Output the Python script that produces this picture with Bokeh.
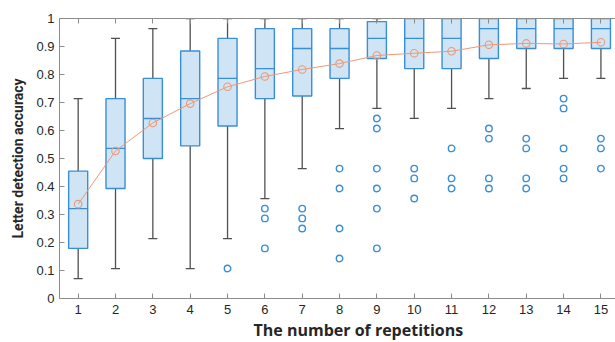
from bokeh.plotting import figure
from bokeh.models import (ColumnDataSource, Range1d, LinearAxis, FixedTicker,
                          NumeralTickFormatter, Title)
from bokeh.embed import file_html
from bokeh.resources import INLINE

# ---- data ----
reps = [1, 2, 3, 4, 5, 6, 7, 8, 9, 10, 11, 12, 13, 14, 15]
whisk_low = [0.071, 0.107, 0.214, 0.107, 0.214, 0.357, 0.464, 0.607, 0.679, 0.643, 0.679, 0.714, 0.750, 0.786, 0.786]
q1 = [0.179, 0.393, 0.500, 0.545, 0.616, 0.714, 0.723, 0.786, 0.857, 0.821, 0.821, 0.857, 0.893, 0.893, 0.893]
median = [0.321, 0.536, 0.643, 0.714, 0.786, 0.821, 0.893, 0.893, 0.929, 0.929, 0.929, 0.964, 0.964, 0.964, 0.964]
q3 = [0.455, 0.714, 0.786, 0.884, 0.929, 0.964, 0.964, 0.964, 0.989, 1.0, 1.0, 1.0, 1.0, 1.0, 1.0]
whisk_high = [0.714, 0.929, 0.964, 1.0, 1.0, 1.0, 1.0, 1.0, 1.0, 1.0, 1.0, 1.0, 1.0, 1.0, 1.0]
mean_acc = [0.337, 0.527, 0.627, 0.696, 0.756, 0.793, 0.818, 0.839, 0.868, 0.876, 0.883, 0.906, 0.911, 0.909, 0.915]

outlier_rep = [5,
               6, 6, 6,
               7, 7, 7,
               8, 8, 8, 8,
               9, 9, 9, 9, 9, 9,
               10, 10, 10,
               11, 11, 11,
               12, 12, 12, 12,
               13, 13, 13, 13,
               14, 14, 14, 14, 14,
               15, 15, 15]
outlier_val = [0.107,
               0.321, 0.286, 0.179,
               0.321, 0.286, 0.250,
               0.464, 0.393, 0.250, 0.143,
               0.643, 0.607, 0.464, 0.393, 0.321, 0.179,
               0.464, 0.429, 0.357,
               0.536, 0.429, 0.393,
               0.607, 0.571, 0.429, 0.393,
               0.571, 0.536, 0.429, 0.393,
               0.714, 0.679, 0.536, 0.464, 0.429,
               0.571, 0.536, 0.464]

y_ticks = [0, 0.1, 0.2, 0.3, 0.4, 0.5, 0.6, 0.7, 0.8, 0.9, 1.0]
x_label = "The number of repetitions"
y_label = "Letter detection accuracy"

# ---- styling ----
BLUE = "#3a8ed6"
FILL = "#cfe4f4"
GREY = "#505050"
ORANGE = "#ee9874"
AXIS = "#8c8c8c"
TXT = "#262626"
TICK_FONT = "Liberation Sans"

src = ColumnDataSource(dict(x=reps, lo=whisk_low, q1=q1, med=median, q3=q3,
                            hi=whisk_high, mean=mean_acc))
osrc = ColumnDataSource(dict(x=outlier_rep, y=outlier_val))

p = figure(width=615, height=342, output_backend="svg", toolbar_location=None,
           x_range=Range1d(0.5, 15.39), y_range=Range1d(0, 1),
           min_border_left=59, min_border_right=0, min_border_top=18,
           min_border_bottom=44)
p.outline_line_color = None
p.xgrid.visible = False
p.ygrid.visible = False
p.background_fill_color = "white"
p.border_fill_color = "white"

# whiskers
p.segment(x0="x", y0="lo", x1="x", y1="q1", source=src, line_color=GREY, line_width=1.3)
p.segment(x0="x", y0="q3", x1="x", y1="hi", source=src, line_color=GREY, line_width=1.3)
p.scatter(x="x", y="lo", source=src, marker="dash", size=9, line_color=GREY, line_width=1.3)
p.scatter(x="x", y="hi", source=src, marker="dash", size=9, line_color=GREY, line_width=1.3)

# boxes
p.vbar(x="x", bottom="q1", top="q3", width=0.51, source=src,
       fill_color=FILL, line_color=BLUE, line_width=1.4)
p.scatter(x="x", y="med", source=src, marker="dash", size=19, line_color=BLUE, line_width=1.4)

# outliers
p.scatter(x="x", y="y", source=osrc, marker="circle", size=6.5, fill_color=None,
          line_color=BLUE, line_width=1.4)

# mean line
p.line(x="x", y="mean", source=src, line_color=ORANGE, line_width=1.0)
p.scatter(x="x", y="mean", source=src, marker="circle", size=7.5, fill_color=None,
          line_color=ORANGE, line_width=1.1)

# axes
xa = p.xaxis[0]
xa.ticker = FixedTicker(ticks=reps)
ya = p.yaxis[0]
ya.ticker = FixedTicker(ticks=y_ticks)
ya.formatter = NumeralTickFormatter(format="0.[0]")
for ax in (xa, ya):
    ax.major_tick_in = 5
    ax.major_tick_out = 0
    ax.minor_tick_in = 0
    ax.minor_tick_out = 0
    ax.axis_line_color = AXIS
    ax.major_tick_line_color = AXIS
    ax.major_label_text_font = TICK_FONT
    ax.major_label_text_font_size = "13px"
    ax.major_label_text_color = TXT
xa.major_label_standoff = 6
ya.major_label_standoff = 5

top = LinearAxis(ticker=FixedTicker(ticks=reps), major_tick_in=5, major_tick_out=0,
                 minor_tick_in=0, minor_tick_out=0, axis_line_color=AXIS,
                 major_tick_line_color=AXIS, major_label_standoff=0,
                 major_label_overrides={r: "" for r in reps})
p.add_layout(top, "above")

p.add_layout(Title(text=x_label, align="left", offset=194, standoff=0,
                   text_font="Open Sans", text_font_size="16px", text_font_style="bold",
                   text_color=TXT), "below")
p.add_layout(Title(text=y_label, align="left", offset=60, standoff=15,
                   vertical_align="bottom",
                   text_font="Roboto", text_font_size="14px", text_font_style="bold",
                   text_color=TXT), "left")

open("out.html", "w").write(file_html(p, INLINE))
